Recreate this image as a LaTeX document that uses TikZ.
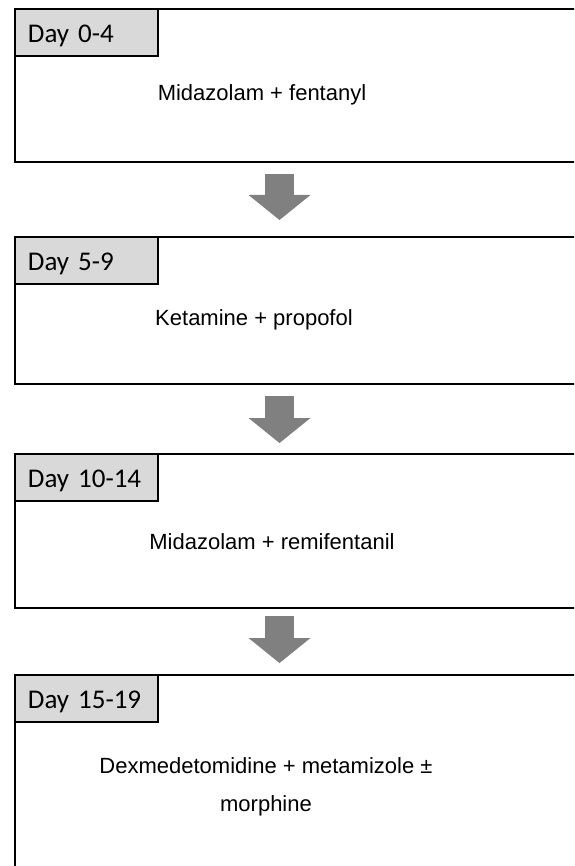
\documentclass[tikz,border=0pt]{standalone}
\usepackage{fontspec}
\setmainfont{Liberation Sans}
\newfontfamily\dayfont{Carlito}
\usetikzlibrary{arrows.meta}

\definecolor{labelgray}{HTML}{D9D9D9}
\definecolor{arrowgray}{HTML}{808080}

\tikzset{
  stagebox/.style={draw=black,line width=0.9pt,anchor=north west,
    minimum width=300pt,inner sep=0pt},
  daybox/.style={draw=black,line width=0.9pt,fill=labelgray,anchor=north west,
    inner ysep=0pt,inner xsep=6.5pt,text width=58.5pt,align=left,
    text height=17pt,text depth=6.5pt,font=\dayfont\fontsize{13.5}{16}\selectfont},
  drugtext/.style={align=center,font=\fontsize{11}{19}\selectfont},
  blockarrow/.style={draw=arrowgray,line width=14.5pt,
    -{Triangle[length=12.5pt,width=31pt,line width=0pt]}}
}

\begin{document}
\begin{tikzpicture}[x=0.5pt,y=-0.5pt]
        \useasboundingbox (0,0) rectangle (574,866);
        \clip (0,0) rectangle (574,866);
        % stage boxes
        \node[stagebox,minimum height=76.5pt] at (14,8) (stage1) {};
        \node[stagebox,minimum height=73.5pt] at (14,236) (stage2) {};
        \node[stagebox,minimum height=77pt] at (14,453) (stage3) {};
        \node[stagebox,minimum height=120pt] at (14,674) (stage4) {};
        % day labels
        \node[daybox] at (stage1.north west) (day1) {Day 0-4};
        \node[daybox] at (stage2.north west) (day2) {Day 5-9};
        \node[daybox] at (stage3.north west) (day3) {Day 10-14};
        \node[daybox] at (stage4.north west) (day4) {Day 15-19};
        % drugs
        \node[drugtext,anchor=base] at (262,101) (drug1) {Midazolam + fentanyl};
        \node[drugtext,anchor=base] at (254,325) (drug2) {Ketamine + propofol};
        \node[drugtext,anchor=base] at (272,549) (drug3) {Midazolam + remifentanil};
        \node[drugtext] at (266,787) (drug4) {Dexmedetomidine + metamizole ±\\ morphine};
        % arrows between stages
        \coordinate (axis) at (279.5,0);
        \foreach \a/\b/\s/\t in {stage1/stage2/5.5pt/8pt,stage2/stage3/5.5pt/5pt,stage3/stage4/3.5pt/5.5pt}
            \draw[blockarrow,shorten <=\s,shorten >=\t] (\a.south -| axis) -- (\b.north -| axis);
    \end{tikzpicture}
\end{document}
